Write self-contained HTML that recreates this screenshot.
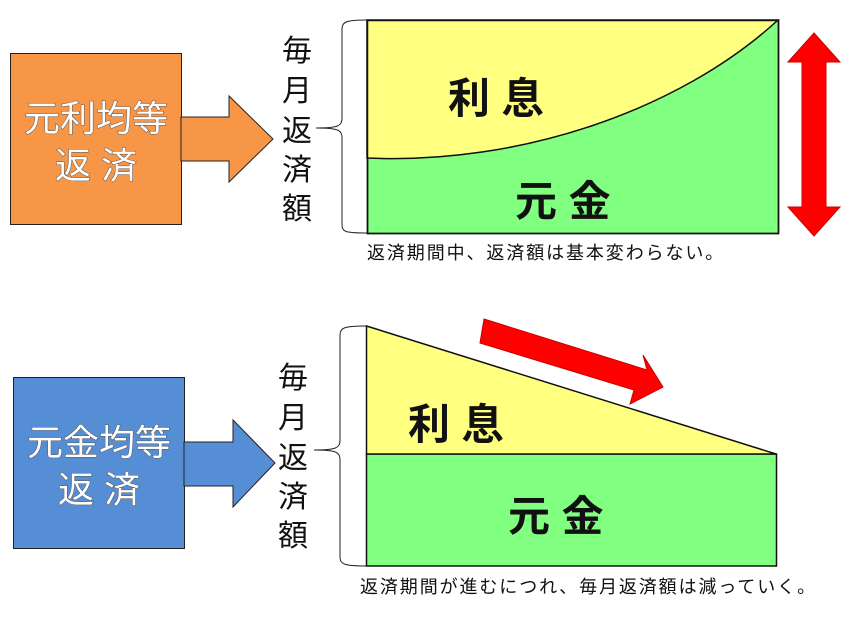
<!DOCTYPE html>
<html><head><meta charset="utf-8"><style>
body{margin:0;background:#fff;width:852px;height:622px;overflow:hidden}
svg text{font-family:"Liberation Sans","Noto Sans CJK JP",sans-serif}
</style></head><body>
<svg width="852" height="622" viewBox="0 0 852 622" xmlns="http://www.w3.org/2000/svg">
<!-- top -->
<rect x="10.5" y="53.5" width="171" height="171" fill="#f79646" stroke="#222" stroke-width="1"/>
<polygon points="181,117 229,117 229,96 273,139 229,182 229,161 181,161" fill="#f79646" stroke="#222" stroke-width="1"/>
<g fill="#fff" stroke="#555" stroke-width="1" font-size="36" text-anchor="middle" paint-order="stroke">
<text x="96" y="131">元利均等</text>
<text x="96" y="178">返 済</text>
</g>
<g font-size="30" text-anchor="middle" fill="#111">
<text x="297" y="61">毎</text><text x="297" y="101">月</text><text x="297" y="141">返</text><text x="297" y="180">済</text><text x="297" y="219">額</text>
</g>
<path d="M367,20 C345,20 342,22 342,30 L342,118 C342,126 338,128 316,128 C338,128 342,130 342,138 L342,224 C342,232 345,233 367,233" fill="none" stroke="#222" stroke-width="1"/>
<rect x="367.5" y="20.5" width="411" height="213" fill="#80ff80" stroke="#111" stroke-width="1.5"/>
<path d="M367,158 C520,165 680,110 778,20 L367,20 Z" fill="#ffff80" stroke="#111" stroke-width="1.5"/>
<rect x="367.5" y="20.5" width="411" height="213" fill="none" stroke="#111" stroke-width="1.5"/>
<g font-size="42" font-weight="bold" fill="#111">
<text x="448" y="113">利 息</text>
<text x="515" y="216">元 金</text>
</g>
<polygon points="814,33 840,62 826,62 826,207 840,207 814,236 788,207 802,207 802,62 788,62" fill="#ff0000" stroke="#c00" stroke-width="1"/>
<text x="367" y="259" font-size="18" letter-spacing="1.9" fill="#111">返済期間中、返済額は基本変わらない。</text>
<!-- bottom -->
<rect x="13.5" y="377.5" width="171" height="171" fill="#558ed5" stroke="#222" stroke-width="1"/>
<polygon points="184,442 233,442 233,420 275,463 233,507 233,486 184,486" fill="#558ed5" stroke="#222" stroke-width="1"/>
<g fill="#fff" stroke="#555" stroke-width="1" font-size="36" text-anchor="middle" paint-order="stroke">
<text x="99" y="455">元金均等</text>
<text x="99" y="502">返 済</text>
</g>
<g font-size="30" text-anchor="middle" fill="#111">
<text x="293" y="388">毎</text><text x="293" y="428">月</text><text x="293" y="468">返</text><text x="293" y="507">済</text><text x="293" y="546">額</text>
</g>
<path d="M366,326 C343,326 340,328 340,336 L340,440 C340,448 336,450 314,450 C336,450 340,452 340,460 L340,556 C340,564 343,566 366,566" fill="none" stroke="#222" stroke-width="1"/>
<rect x="366.5" y="454" width="410" height="112" fill="#80ff80" stroke="#111" stroke-width="1.5"/>
<polygon points="366.5,326 776,454 366.5,454" fill="#ffff80" stroke="#111" stroke-width="1.5"/>
<g font-size="42" font-weight="bold" fill="#111">
<text x="408" y="439">利 息</text>
<text x="508" y="531">元 金</text>
</g>
<polygon points="484,319 647,370 643,355 663,387 630,404 634,390 480,343" fill="#ff0000" stroke="#c00" stroke-width="1"/>
<text x="360" y="593" font-size="18" letter-spacing="1.9" fill="#111">返済期間が進むにつれ、毎月返済額は減っていく。</text>
</svg>
</body></html>
